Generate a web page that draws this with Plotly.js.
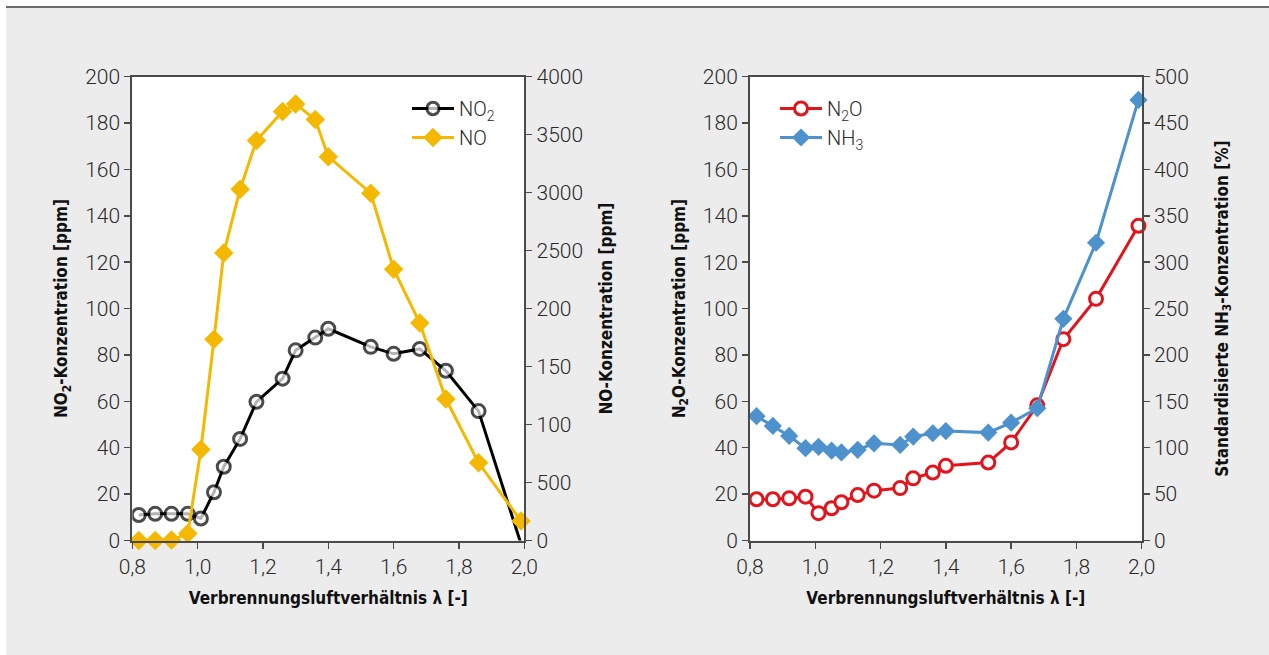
<!DOCTYPE html>
<html>
<head>
<meta charset="utf-8">
<script src="https://cdn.plot.ly/plotly-3.0.1.min.js"></script>
<style>html,body{margin:0;padding:0;background:#fff;}#chart{width:1269px;height:655px;}</style>
</head>
<body>
<div id="chart"></div>
<script>
// ---- data ----
const lambdaLeft = [0.82, 0.87, 0.92, 0.97, 1.01, 1.05, 1.08, 1.13, 1.18, 1.26, 1.30, 1.36, 1.40, 1.53, 1.60, 1.68, 1.76, 1.86, 1.99];
const no2 = [11, 11.5, 11.5, 11.5, 9.5, 20.8, 31.8, 43.8, 59.8, 69.8, 82, 87.5, 91.3, 83.5, 80.5, 82.6, 73.2, 55.8, -1.5];
const no = [0, 0, 5, 60, 785, 1735, 2480, 3030, 3450, 3700, 3765, 3630, 3310, 2995, 2340, 1875, 1220, 670, 168];

const lambdaRight = [0.82, 0.87, 0.92, 0.97, 1.01, 1.05, 1.08, 1.13, 1.18, 1.26, 1.30, 1.36, 1.40, 1.53, 1.60, 1.68, 1.76, 1.86, 1.99];
const n2o = [17.8, 17.8, 18.2, 18.9, 11.8, 13.9, 16.5, 19.6, 21.5, 22.6, 26.8, 29.3, 32.2, 33.6, 42.3, 58.3, 86.8, 104.2, 135.7];
const nh3 = [134, 123.5, 112.7, 99.5, 101, 96.8, 95, 97.7, 104.8, 103, 112, 115.6, 118, 116.3, 127, 142.6, 239, 321, 475];

const noTickVals = [0, 500, 1000, 1500, 2000, 2500, 3000, 3500, 4000];
const noTickText = ['0', '500', '100', '150', '200', '2500', '3000', '3500', '4000'];

// ---- layout helpers ----
const W = 1269, H = 655;
const px = v => v / W;
const py = v => 1 - v / H;

const tickFont = {family: 'Roboto, "Liberation Sans", sans-serif', size: 21, color: '#2a2a2a', weight: 300};
const legFont = {family: 'Roboto, "Liberation Sans", sans-serif', size: 20, color: '#2a2a2a', weight: 300};
const titleFont = {family: '"Liberation Sans Narrow", "DejaVu Sans Condensed", "Liberation Sans", sans-serif', size: 17, color: '#111', weight: 'bold'};
const axisCol = '#4a4a4a';

function baseAxis(extra) {
  return Object.assign({
    showline: true, linecolor: axisCol, linewidth: 2,
    ticks: 'outside', ticklen: 6, tickwidth: 1.5, tickcolor: axisCol,
    showgrid: false, zeroline: false, tickfont: tickFont, automargin: false
  }, extra);
}

const yDom = [py(540.5), py(76.7)];

const traces = [
  {x: lambdaLeft, y: no2, name: 'NO<sub>2</sub>', xaxis: 'x', yaxis: 'y', mode: 'lines+markers',
   line: {color: '#000', width: 3}, cliponaxis: true,
   marker: {symbol: 'circle', size: no2.map(v => v < 0 ? 0 : 13), color: '#fff', line: {color: '#000', width: 3}},
   legend: 'legend'},
  {x: lambdaLeft, y: no, name: 'NO', xaxis: 'x', yaxis: 'y2', mode: 'lines+markers',
   line: {color: '#f5b800', width: 3}, cliponaxis: false,
   marker: {symbol: 'diamond', size: 15, color: '#f5b800'}, legend: 'legend'},
  {x: lambdaRight, y: n2o, name: 'N<sub>2</sub>O', xaxis: 'x2', yaxis: 'y3', mode: 'lines+markers',
   line: {color: '#e2141c', width: 3}, cliponaxis: false,
   marker: {symbol: 'circle', size: 13, color: '#fff', line: {color: '#e2141c', width: 3}}, legend: 'legend2'},
  {x: lambdaRight, y: nh3, name: 'NH<sub>3</sub>', xaxis: 'x2', yaxis: 'y4', mode: 'lines+markers',
   line: {color: '#4d91cd', width: 3}, cliponaxis: false,
   marker: {symbol: 'diamond', size: 14, color: '#4d91cd'}, legend: 'legend2'}
];

const xTitle = {text: 'Verbrennungsluftverhältnis <b>λ</b> [-]', font: titleFont, standoff: 14};

const layout = {
  width: W, height: H,
  margin: {l: 0, r: 0, t: 0, b: 0},
  paper_bgcolor: '#ececec',
  plot_bgcolor: '#ffffff',
  separators: ',.',
  showlegend: true,
  xaxis: baseAxis({domain: [px(132.3), px(524.3)], range: [0.8, 2.0], tick0: 0.8, dtick: 0.2, tickformat: '.1f',
    anchor: 'y', mirror: true, title: xTitle}),
  yaxis: baseAxis({domain: yDom, range: [0, 200], dtick: 20, anchor: 'x',
    title: {text: 'NO<sub>2</sub>-Konzentration [ppm]', font: titleFont, standoff: 13}}),
  yaxis2: baseAxis({overlaying: 'y', side: 'right', anchor: 'x', range: [0, 4000],
    tickmode: 'array', tickvals: noTickVals, ticktext: noTickText,
    title: {text: 'NO-Konzentration [ppm]', font: titleFont, standoff: 18}}),
  xaxis2: baseAxis({domain: [px(750), px(1141.7)], range: [0.8, 2.0], tick0: 0.8, dtick: 0.2, tickformat: '.1f',
    anchor: 'y3', mirror: true, title: xTitle}),
  yaxis3: baseAxis({domain: yDom, range: [0, 200], dtick: 20, anchor: 'x2',
    title: {text: 'N<sub>2</sub>O-Konzentration [ppm]', font: titleFont, standoff: 13}}),
  yaxis4: baseAxis({overlaying: 'y3', side: 'right', anchor: 'x2', range: [0, 500], dtick: 50,
    title: {text: 'Standardisierte NH<sub>3</sub>-Konzentration [%]', font: titleFont, standoff: 28}}),
  legend: {x: px(407), y: py(89), xanchor: 'left', yanchor: 'top', bgcolor: 'rgba(0,0,0,0)',
    font: legFont, itemwidth: 42, tracegroupgap: 0},
  legend2: {x: px(775), y: py(89), xanchor: 'left', yanchor: 'top', bgcolor: 'rgba(0,0,0,0)',
    font: legFont, itemwidth: 42, tracegroupgap: 0},
  shapes: [
    {type: 'rect', xref: 'paper', yref: 'paper', x0: 0, x1: 1, y0: py(6), y1: 1, fillcolor: '#fff', line: {width: 0}, layer: 'below'},
    {type: 'rect', xref: 'paper', yref: 'paper', x0: 0, x1: px(6), y0: 0, y1: 1, fillcolor: '#fff', line: {width: 0}, layer: 'below'},
    {type: 'line', xref: 'paper', yref: 'paper', x0: px(6), x1: 1, y0: py(7), y1: py(7), line: {color: '#6b6b6b', width: 2}}
  ]
};

Plotly.newPlot('chart', traces, layout, {displayModeBar: false, staticPlot: true});
</script>
</body>
</html>
